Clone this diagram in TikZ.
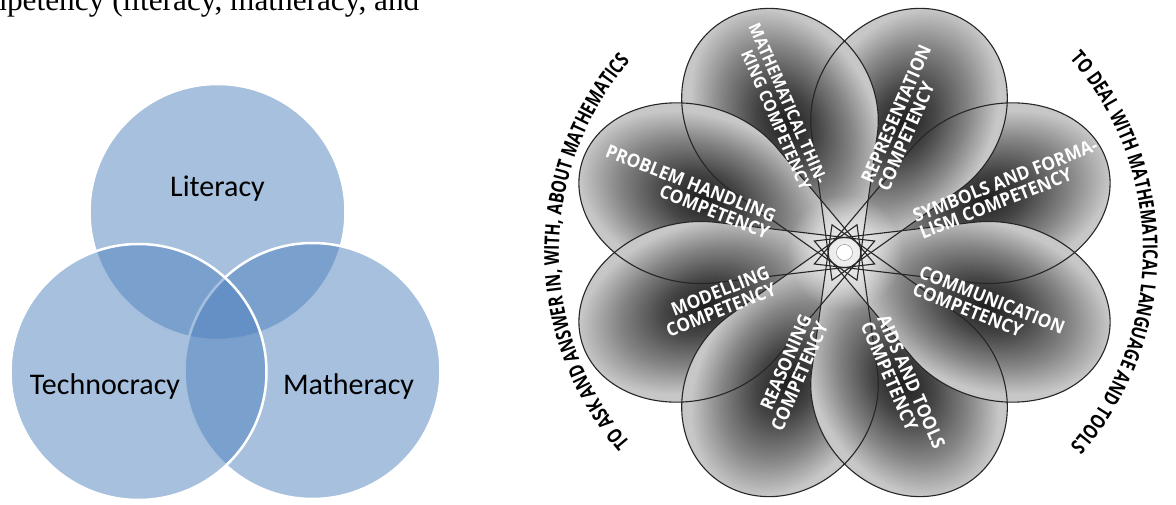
\documentclass[tikz,border=0pt]{standalone}
\usepackage{fontspec}
\setmainfont{Liberation Serif}
\newfontfamily\vennfont{Carlito}
\newfontfamily\flowerfont[FakeStretch=0.93]{Open Sans}
\newfontfamily\arcfont[FakeStretch=0.76]{Open Sans}
\usetikzlibrary{decorations.text,fadings}
\definecolor{officeblue}{RGB}{79,129,189}
\definecolor{petaledgecol}{RGB}{38,38,38}
\pgfdeclareradialshading{petalshade}{\pgfpoint{0bp}{0bp}}{color(0bp)=(black!88); color(8bp)=(black!73); color(17bp)=(black!48); color(25bp)=(black!22); color(50bp)=(black!22)}
\tikzfading[name=glowfade, inner color=transparent!0, outer color=transparent!100]
\newcommand\arcstyle{\arcfont\bfseries\fontsize{20.5}{20.5}\selectfont}
\tikzset{
  venncirc/.style={circle, inner sep=0pt, minimum size=256pt, fill=officeblue, fill opacity=0.5, draw=white, line width=2.5pt},
  vlabel/.style={font=\vennfont\fontsize{30}{36}\selectfont, inner sep=0pt, text=black},
  petalpath/.style={insert path={(-30,0) -- (97.65,73.1) arc[start angle=123.83, end angle=-123.83, x radius=103, y radius=88] -- cycle}},
  petaledge/.style={draw=petaledgecol, line width=1.1pt},
  ptext/.style={font=\flowerfont\bfseries\fontsize{18.5}{18}\selectfont, text=white, inner sep=0pt},
  hubdot/.style={circle, fill=white, draw=black!50, line width=0.4pt, minimum size=16pt, inner sep=0pt}
}
\begin{document}
\begin{tikzpicture}[x=1pt,y=1pt]
\useasboundingbox (0,0) rectangle (1176,504);
\clip (0,0) rectangle (1176,504);

% cut-off caption line
\node[anchor=base west, inner sep=0pt, font=\fontsize{31.3}{36}\selectfont] (caption) at (-47,493.5) {competency (literacy, matheracy, and};

% Venn diagram
\node[venncirc] (lit) at (217.5,292) {};
\node[venncirc] (mat) at (312.5,133) {};
\node[venncirc] (tec) at (138.5,132) {};
\node[vlabel, anchor=base] (litl) at (217.5,307.3) {Literacy};
\node[vlabel, anchor=base] (tecl) at (105,110) {Technocracy};
\node[vlabel, anchor=base] (matl) at (348.5,110) {Matheracy};

% flower petals: fills
\foreach \ang in {22.5,67.5,112.5,157.5,202.5,247.5,292.5,337.5}{
  \begin{scope}[transform canvas={shift={(844.5,251.5)}, xscale=1.088, rotate=\ang}]
    \clip[petalpath];
    \fill[black!22, petalpath];
    \begin{scope}[transform canvas={shift={(140,0)}, xscale=1.45}]
      \shade[shading=petalshade] (0,0) circle (82);
    \end{scope}
  \end{scope}
}
% central glow
\fill[white, fill opacity=0.85, path fading=glowfade] (844.5,251.5) circle (58);
% petal outlines
\foreach \ang in {22.5,67.5,112.5,157.5,202.5,247.5,292.5,337.5}{
  \draw[petaledge, shift={(844.5,251.5)}, xscale=1.088, rotate=\ang, petalpath];
}
\node[hubdot] (hub) at (844.5,251.5) {};

% petal texts
\node[ptext, font=\flowerfont\bfseries\fontsize{17}{17.5}\selectfont, anchor=east, align=right, rotate=-66.5] (mt) at (814.5,318.0) {MATHEMATICAL THIN-\\KING COMPETENCY};
\node[ptext, anchor=west, align=left, rotate=66.5] (rp) at (874.5,318.0) {REPRESENTATION\\COMPETENCY};
\node[ptext, anchor=west, align=left, rotate=21.5] (sy) at (916.9,279.1) {SYMBOLS AND FORMA-\\LISM COMPETENCY};
\node[ptext, anchor=west, align=left, rotate=-21.5] (cm) at (916.9,223.9) {COMMUNICATION\\COMPETENCY};
\node[ptext, anchor=west, align=left, rotate=-66.5] (at) at (874.5,185.0) {AIDS AND TOOLS\\COMPETENCY};
\node[ptext, anchor=east, align=right, rotate=66.5] (rs) at (814.5,185.0) {REASONING\\COMPETENCY};
\node[ptext, anchor=east, align=right, rotate=21.5] (md) at (772.1,223.9) {MODELLING\\COMPETENCY};
\node[ptext, anchor=east, align=right, rotate=-21.5] (ph) at (772.1,279.1) {PROBLEM HANDLING\\COMPETENCY};

% arc texts
\coordinate (arcC) at (851,252);
\path[decorate, decoration={text along path, text align=center, text={|\arcstyle|TO ASK AND ANSWER IN, WITH, ABOUT MATHEMATICS}}]
  ([shift={(226:292)}]arcC) arc[start angle=226, end angle=134, radius=292];
\path[decorate, decoration={text along path, text align=center, text={|\arcstyle|TO DEAL WITH MATHEMATICAL LANGUAGE AND TOOLS}}]
  ([shift={(46:292)}]arcC) arc[start angle=46, end angle=-46, radius=292];
\end{tikzpicture}
\end{document}
